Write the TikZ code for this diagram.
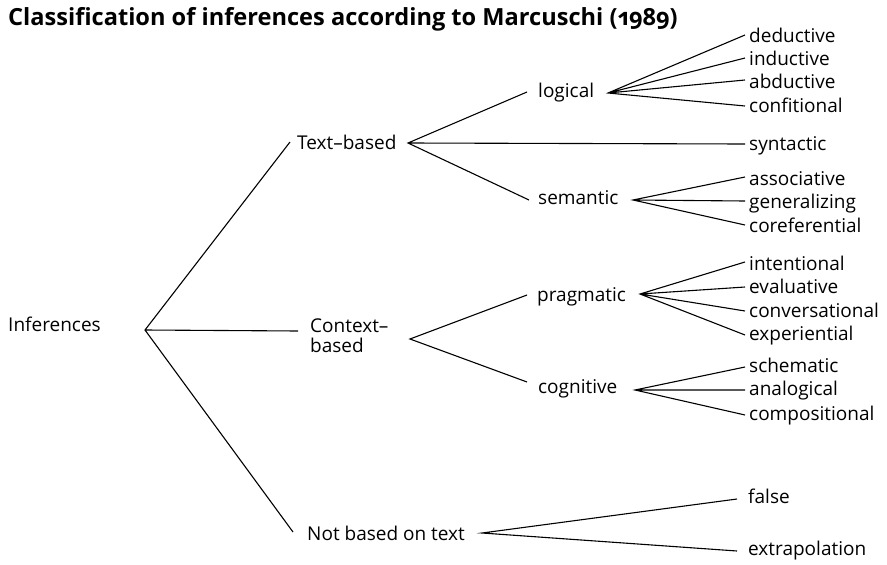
\documentclass[tikz,border=0pt]{standalone}
\usepackage{fontspec}
\setmainfont{Open Sans}
\newfontfamily\titlefont[Numbers=OldStyle]{Open Sans}
\begin{document}
\begin{tikzpicture}[x=1pt,y=-1pt,
  lbl/.style={anchor=base west,inner sep=0pt,font=\fontsize{19}{20}\selectfont},
  link/.style={draw=black,line width=1.1pt}]
\useasboundingbox (0,0) rectangle (887,565);
% title
\node[anchor=base west,inner sep=0pt,font=\titlefont\bfseries\fontsize{23.6}{26}\selectfont] (title) at (8,25) {Classification of inferences according to Marcuschi (1989)};
% labels
\node[lbl] (inf) at (8,331) {Inferences};
\node[lbl] (tb) at (297,149) {Text–based};
\node[lbl,align=left] (cb) at (310,352) {Context–\\based};
\node[lbl] (nb) at (307,540) {Not based on text};
\node[lbl] (log) at (538,97) {logical};
\node[lbl] (sem) at (538,204) {semantic};
\node[lbl] (prag) at (537,301) {pragmatic};
\node[lbl] (cog) at (538,393) {cognitive};
\node[lbl] (ded) at (749,42) {deductive};
\node[lbl] (ind) at (749,65) {inductive};
\node[lbl] (abd) at (749,88) {abductive};
\node[lbl] (con) at (749,112) {confitional};
\node[lbl] (syn) at (749,150) {syntactic};
\node[lbl] (ass) at (749,185) {associative};
\node[lbl] (gen) at (749,208) {generalizing};
\node[lbl] (cor) at (749,232) {coreferential};
\node[lbl] (int) at (749,270) {intentional};
\node[lbl] (eva) at (749,293) {evaluative};
\node[lbl] (conv) at (749,317) {conversational};
\node[lbl] (exp) at (749,340) {experiential};
\node[lbl] (sch) at (749,372) {schematic};
\node[lbl] (ana) at (749,395) {analogical};
\node[lbl] (comp) at (749,420) {compositional};
\node[lbl] (fal) at (748,503) {false};
\node[lbl] (ext) at (748,555) {extrapolation};
% connection points
\coordinate (inf-o) at (145,330);
\coordinate (tb-i) at (290,142);
\coordinate (tb-o) at (408,143);
\coordinate (cb-i) at (298,331);
\coordinate (cb-o) at (410,339);
\coordinate (nb-i) at (293,532);
\coordinate (nb-o) at (482,533);
\coordinate (log-i) at (527,92);
\coordinate (log-o) at (608,93);
\coordinate (sem-i) at (529,200);
\coordinate (sem-o) at (633,200);
\coordinate (prag-i) at (527,295);
\coordinate (prag-o) at (640,294);
\coordinate (cog-i) at (527,382);
\coordinate (cog-o) at (635,390);
\coordinate (ded-i) at (745,35);
\coordinate (ind-i) at (745,58);
\coordinate (abd-i) at (745,80);
\coordinate (con-i) at (745,106);
\coordinate (syn-i) at (745,144);
\coordinate (ass-i) at (745,177);
\coordinate (gen-i) at (745,201);
\coordinate (cor-i) at (745,225);
\coordinate (int-i) at (745,262);
\coordinate (eva-i) at (745,287);
\coordinate (conv-i) at (745,311);
\coordinate (exp-i) at (745,335);
\coordinate (sch-i) at (745,367);
\coordinate (ana-i) at (745,390);
\coordinate (comp-i) at (745,415);
\coordinate (fal-i) at (737,499);
\coordinate (ext-i) at (737,551);
% connectors
\draw[link] (tb-i) -- (inf-o) -- (nb-i) (inf-o) -- (cb-i);
\draw[link] (log-i) -- (tb-o) -- (sem-i) (tb-o) -- (syn-i);
\draw[link] (prag-i) -- (cb-o) -- (cog-i);
\draw[link] (fal-i) -- (nb-o) -- (ext-i);
\draw[link] (ded-i) -- (log-o) -- (con-i) (log-o) -- (ind-i) (log-o) -- (abd-i);
\draw[link] (ass-i) -- (sem-o) -- (cor-i) (sem-o) -- (gen-i);
\draw[link] (int-i) -- (prag-o) -- (exp-i) (prag-o) -- (eva-i) (prag-o) -- (conv-i);
\draw[link] (sch-i) -- (cog-o) -- (comp-i) (cog-o) -- (ana-i);
\end{tikzpicture}
\end{document}
